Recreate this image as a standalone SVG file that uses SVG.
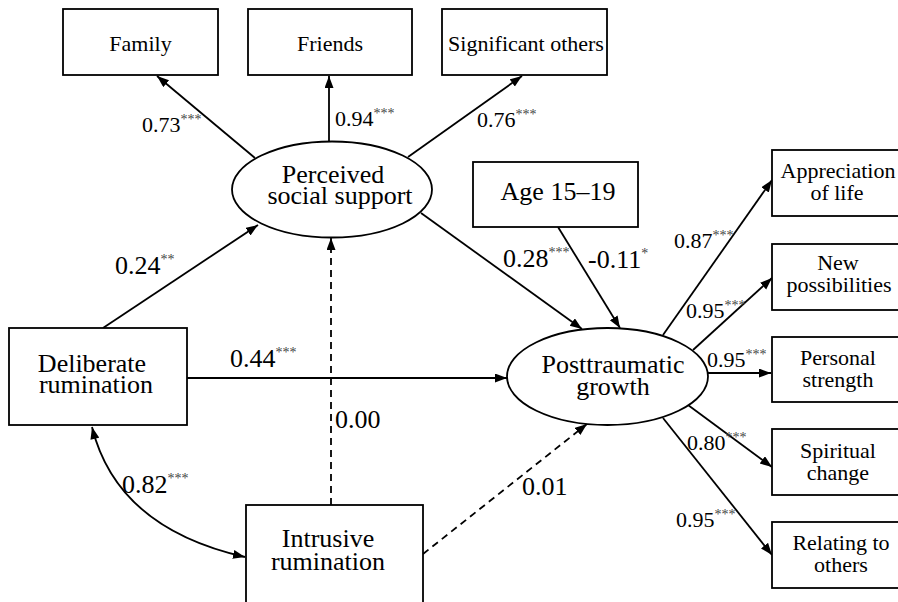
<svg xmlns="http://www.w3.org/2000/svg" width="898" height="602" viewBox="0 0 898 602">
<defs>
<marker id="ah" markerUnits="userSpaceOnUse" markerWidth="13" markerHeight="10" refX="12" refY="4.5" orient="auto">
<path d="M0,0 L12,4.5 L0,9 z" fill="#000"/>
</marker>
<marker id="ahs" markerUnits="userSpaceOnUse" markerWidth="13" markerHeight="10" refX="0" refY="4.5" orient="auto">
<path d="M12,0 L0,4.5 L12,9 z" fill="#000"/>
</marker>
</defs>
<rect width="898" height="602" fill="#fff"/>
<g id="connectors" fill="none" stroke="#000" stroke-width="1.8">
<line marker-end="url(#ah)" x1="255" y1="158" x2="157" y2="76"/>
<line marker-end="url(#ah)" x1="329" y1="141" x2="329" y2="76"/>
<line marker-end="url(#ah)" x1="408" y1="157" x2="522" y2="76"/>
<line marker-end="url(#ah)" x1="103" y1="328" x2="258" y2="225"/>
<line marker-end="url(#ah)" stroke-dasharray="7,5" x1="331" y1="505" x2="331" y2="238"/>
<line marker-end="url(#ah)" x1="187" y1="378" x2="507" y2="378"/>
<line marker-end="url(#ah)" x1="421" y1="213" x2="582" y2="329"/>
<line marker-end="url(#ah)" x1="558" y1="227" x2="620" y2="328"/>
<line marker-end="url(#ah)" stroke-dasharray="7,5" x1="423" y1="554" x2="587" y2="424"/>
<path marker-start="url(#ahs)" marker-end="url(#ah)" d="M92,427 Q117,528 245,557"/>
<line marker-end="url(#ah)" x1="663" y1="335" x2="772" y2="180"/>
<line marker-end="url(#ah)" x1="693" y1="350" x2="772" y2="278"/>
<line marker-end="url(#ah)" x1="708" y1="373" x2="771" y2="373"/>
<line marker-end="url(#ah)" x1="688" y1="405" x2="772" y2="467"/>
<line marker-end="url(#ah)" x1="663" y1="418" x2="772" y2="555"/>
</g>
<g id="labels" fill="#000">
<text font-family="Liberation Serif" font-size="22" x="142" y="132">0.73<tspan font-size="14" fill="#444" dy="-8">***</tspan></text>
<text font-family="Liberation Serif" font-size="22" x="335" y="126">0.94<tspan font-size="14" fill="#444" dy="-8">***</tspan></text>
<text font-family="Liberation Serif" font-size="22" x="477" y="127">0.76<tspan font-size="14" fill="#444" dy="-8">***</tspan></text>
<text font-family="Liberation Serif" font-size="26" x="115" y="274">0.24<tspan font-size="14" fill="#444" dy="-10">**</tspan></text>
<text font-family="Liberation Serif" font-size="26" x="230" y="367">0.44<tspan font-size="14" fill="#444" dy="-10">***</tspan></text>
<text font-family="Liberation Serif" font-size="26" x="335" y="428">0.00</text>
<text font-family="Liberation Serif" font-size="26" x="122" y="493">0.82<tspan font-size="14" fill="#444" dy="-10">***</tspan></text>
<text font-family="Liberation Serif" font-size="26" x="503" y="267">0.28<tspan font-size="14" fill="#444" dy="-10">***</tspan></text>
<text font-family="Liberation Serif" font-size="26" x="588" y="268">-0.11<tspan font-size="14" fill="#444" dy="-10">*</tspan></text>
<text font-family="Liberation Serif" font-size="26" x="522" y="495">0.01</text>
<text font-family="Liberation Serif" font-size="22" x="674" y="248">0.87<tspan font-size="14" fill="#444" dy="-8">***</tspan></text>
<text font-family="Liberation Serif" font-size="22" x="686" y="318">0.95<tspan font-size="14" fill="#444" dy="-8">***</tspan></text>
<text font-family="Liberation Serif" font-size="22" x="707" y="367">0.95<tspan font-size="14" fill="#444" dy="-8">***</tspan></text>
<text font-family="Liberation Serif" font-size="22" x="687" y="450">0.80<tspan font-size="14" fill="#444" dy="-8">***</tspan></text>
<text font-family="Liberation Serif" font-size="22" x="676" y="527">0.95<tspan font-size="14" fill="#444" dy="-8">***</tspan></text>
</g>
<g id="family"><rect fill="#fff" stroke="#000" stroke-width="1.8" x="63" y="9" width="155" height="66"/><text font-family="Liberation Serif" font-size="22" x="140.5" y="51" text-anchor="middle">Family</text></g>
<g id="friends"><rect fill="#fff" stroke="#000" stroke-width="1.8" x="248" y="9" width="164" height="66"/><text font-family="Liberation Serif" font-size="22" x="330" y="51" text-anchor="middle">Friends</text></g>
<g id="significant-others"><rect fill="#fff" stroke="#000" stroke-width="1.8" x="442" y="9" width="165" height="66"/><text font-family="Liberation Serif" font-size="22" x="526" y="51" text-anchor="middle">Significant others</text></g>
<g id="perceived-social-support"><ellipse fill="#fff" stroke="#000" stroke-width="1.8" cx="332" cy="189.5" rx="100" ry="48"/><text font-family="Liberation Serif" font-size="26" x="333" y="183" text-anchor="middle">Perceived</text><text font-family="Liberation Serif" font-size="26" x="340" y="204" text-anchor="middle">social support</text></g>
<g id="age"><rect fill="#fff" stroke="#000" stroke-width="1.8" x="473" y="162" width="165" height="65"/><text font-family="Liberation Serif" font-size="26" x="558" y="200" text-anchor="middle">Age 15&#8211;19</text></g>
<g id="deliberate-rumination"><rect fill="#fff" stroke="#000" stroke-width="1.8" x="9" y="328" width="178" height="97"/><text font-family="Liberation Serif" font-size="26" x="92" y="372" text-anchor="middle">Deliberate</text><text font-family="Liberation Serif" font-size="26" x="96" y="393" text-anchor="middle">rumination</text></g>
<g id="intrusive-rumination"><rect fill="#fff" stroke="#000" stroke-width="1.8" x="246" y="505" width="177" height="100"/><text font-family="Liberation Serif" font-size="26" x="328" y="547" text-anchor="middle">Intrusive</text><text font-family="Liberation Serif" font-size="26" x="328" y="570" text-anchor="middle">rumination</text></g>
<g id="posttraumatic-growth"><ellipse fill="#fff" stroke="#000" stroke-width="1.8" cx="607.5" cy="376.5" rx="100.5" ry="48.5"/><text font-family="Liberation Serif" font-size="26" x="613" y="373" text-anchor="middle">Posttraumatic</text><text font-family="Liberation Serif" font-size="26" x="613" y="395" text-anchor="middle">growth</text></g>
<g id="appreciation-of-life"><rect fill="#fff" stroke="#000" stroke-width="1.8" x="772" y="150" width="132" height="66"/><text font-family="Liberation Serif" font-size="22" x="838" y="178" text-anchor="middle">Appreciation</text><text font-family="Liberation Serif" font-size="22" x="837" y="200" text-anchor="middle">of life</text></g>
<g id="new-possibilities"><rect fill="#fff" stroke="#000" stroke-width="1.8" x="772" y="244" width="132" height="66"/><text font-family="Liberation Serif" font-size="22" x="838" y="270" text-anchor="middle">New</text><text font-family="Liberation Serif" font-size="22" x="839" y="292" text-anchor="middle">possibilities</text></g>
<g id="personal-strength"><rect fill="#fff" stroke="#000" stroke-width="1.8" x="772" y="337" width="132" height="65"/><text font-family="Liberation Serif" font-size="22" x="838" y="365" text-anchor="middle">Personal</text><text font-family="Liberation Serif" font-size="22" x="838" y="387" text-anchor="middle">strength</text></g>
<g id="spiritual-change"><rect fill="#fff" stroke="#000" stroke-width="1.8" x="772" y="429" width="132" height="66"/><text font-family="Liberation Serif" font-size="22" x="838" y="458" text-anchor="middle">Spiritual</text><text font-family="Liberation Serif" font-size="22" x="838" y="480" text-anchor="middle">change</text></g>
<g id="relating-to-others"><rect fill="#fff" stroke="#000" stroke-width="1.8" x="772" y="522" width="132" height="66"/><text font-family="Liberation Serif" font-size="22" x="841" y="550" text-anchor="middle">Relating to</text><text font-family="Liberation Serif" font-size="22" x="841" y="572" text-anchor="middle">others</text></g>
</svg>
